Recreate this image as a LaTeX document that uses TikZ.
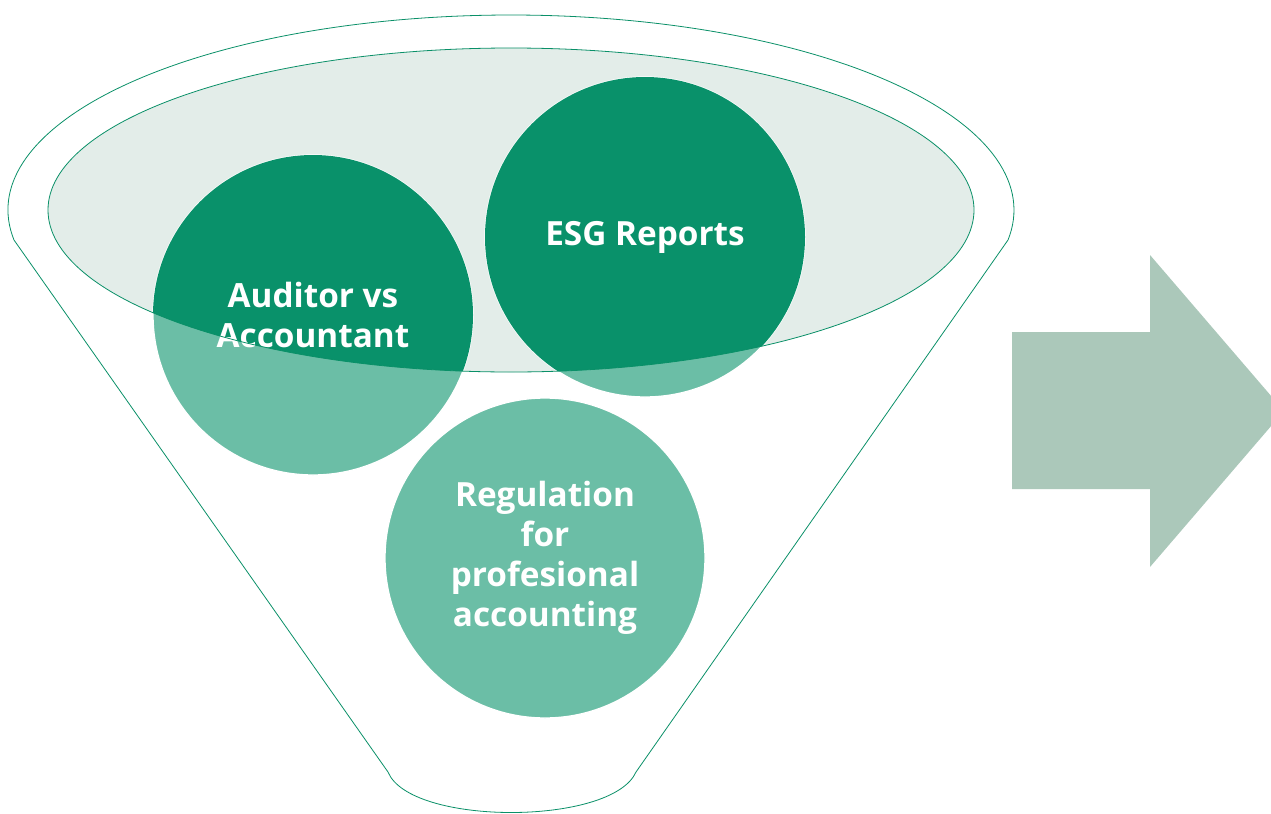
\documentclass[tikz,border=0pt]{standalone}
\usepackage{fontspec}
\setmainfont{Open Sans}
\usepackage{tikz}
\usetikzlibrary{calc}
\definecolor{funnelline}{HTML}{0A9068}
\definecolor{darkbub}{HTML}{09916A}
\definecolor{lightbub}{HTML}{6BBEA6}
\definecolor{rimfill}{HTML}{E3EDE9}
\definecolor{arrowfill}{HTML}{ABC8BA}
\tikzstyle{bub}=[circle, fill=lightbub, draw=white, line width=1pt, minimum size=240pt, inner sep=0pt]
\tikzstyle{lbl}=[text=white, font=\bfseries\fontsize{25}{30}\selectfont, align=center]

\begin{document}
\begin{tikzpicture}[x=0.75pt,y=-0.75pt]
      \useasboundingbox (0,0) rectangle (1271,814);
      % funnel body
      \draw[funnelline, fill=white, line width=0.6pt] (14,240) arc (171.15:368.85:503 and 195)
          -- (636,772) .. controls (612,826) and (410,826) .. (388,772) -- cycle;
      \fill[rimfill] (511,210) ellipse (463 and 162);
      % bubbles
      \node[bub] (aud) at (313,315) {};
      \node[bub] (esg) at (645,237) {};
      \node[bub] (reg) at (545,558) {};
      \begin{scope}
        \clip (511,210) ellipse (463 and 162);
        \fill[darkbub] (aud.center) circle (120pt);
        \fill[darkbub] (esg.center) circle (120pt);
      \end{scope}
      \node[lbl] at (aud) {Auditor vs\\Accountant};
      \node[lbl] at (esg) {ESG Reports};
      \node[lbl] at (reg) {Regulation\\for\\profesional\\accounting};
      \draw[funnelline, line width=0.6pt] (511,210) ellipse (463 and 162);
      % arrow
      \fill[arrowfill] (1012,332) -- (1150,332) -- (1150,255) -- (1284,411)
          -- (1150,567) -- (1150,489) -- (1012,489) -- cycle;
  \end{tikzpicture}
\end{document}
